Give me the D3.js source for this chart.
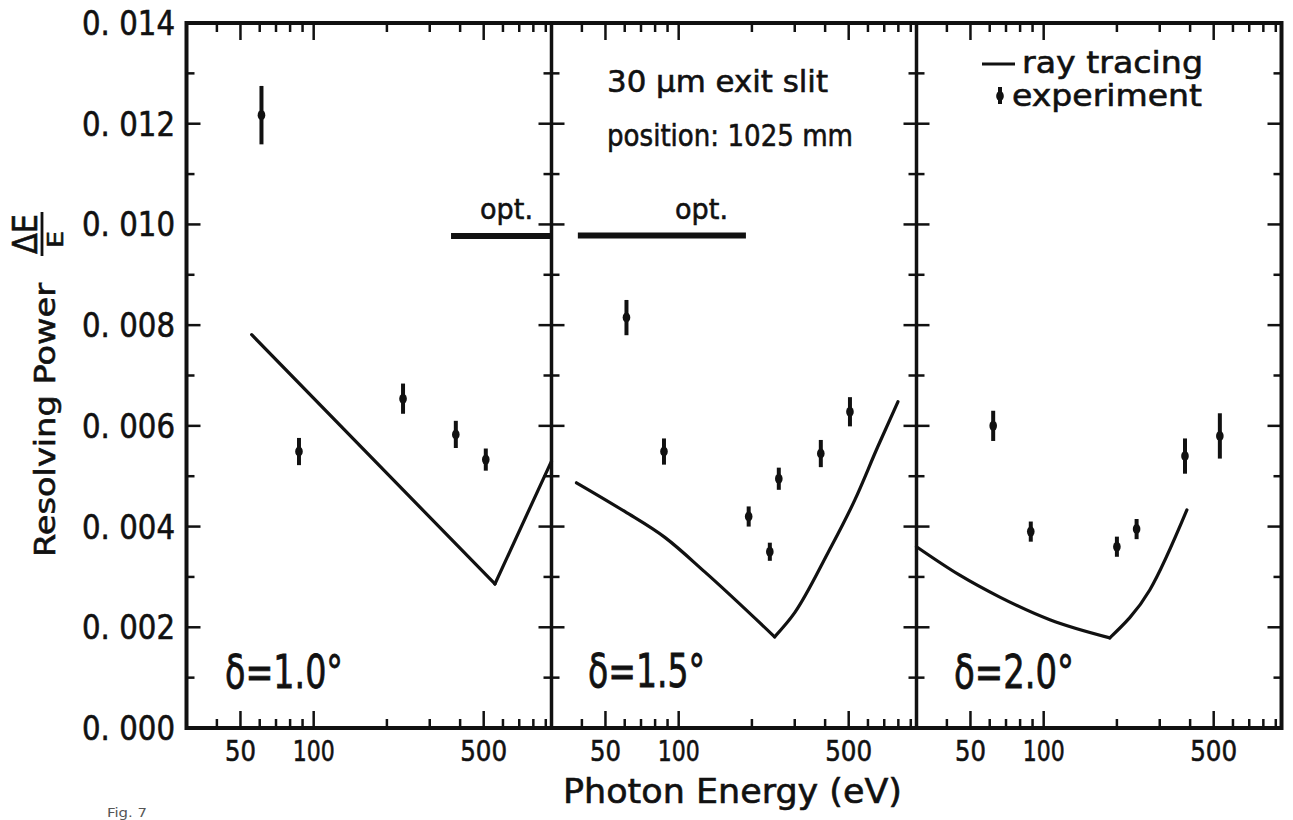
<!DOCTYPE html>
<html><head><meta charset="utf-8">
<script src="https://cdnjs.cloudflare.com/ajax/libs/d3/7.8.5/d3.min.js"></script>
<style>html,body{margin:0;padding:0;background:#fff;} svg{display:block;}</style>
</head><body><svg id="c" width="1293" height="820"></svg>
<script>
// ---------- data ----------
const yMajorTicks = [0, 0.002, 0.004, 0.006, 0.008, 0.010, 0.012, 0.014];
const yTickLabels = ["0. 000","0. 002","0. 004","0. 006","0. 008","0. 010","0. 012","0. 014"];
const yMinorTicks = [0.001, 0.003, 0.005, 0.007, 0.009, 0.011, 0.013];
const xMajorTicks = [50, 100, 500];
const xTickLabels = ["50", "100", "500"];
const xMinorTicks = [40, 60, 70, 80, 90, 200, 300, 400, 600, 700, 800, 900];
const panelLabels = ["δ=1.0°", "δ=1.5°", "δ=2.0°"];

// panel 1 (δ = 1.0°)
const exp1E   = [61, 87, 233, 384, 510];
const exp1V   = [0.01217, 0.00549, 0.00654, 0.00583, 0.00533];
const exp1Err = [0.00058, 0.00027, 0.00030, 0.00027, 0.00022];
const ray1E   = [55.6, 556, 950];
const ray1V   = [0.00781, 0.00286, 0.00530];
const ray1Min = 1;           // index of the kink
const opt1E   = [367, 950];
const opt1V   = 0.00977;

// panel 2 (δ = 1.5°)
const exp2E   = [61, 87, 194, 237, 258, 384, 506];
const exp2V   = [0.00815, 0.00549, 0.00420, 0.00350, 0.00495, 0.00545, 0.00628];
const exp2Err = [0.00035, 0.00026, 0.00020, 0.00018, 0.00022, 0.00027, 0.00029];
const ray2E   = [38, 60, 88, 128, 248, 300, 411, 530, 659, 797];
const ray2V   = [0.00487, 0.00430, 0.00378, 0.00310, 0.00181, 0.00229, 0.00348, 0.00453, 0.00559, 0.00648];
const ray2Min = 4;
const opt2E   = [38.5, 189];
const opt2V   = 0.00978;

// panel 3 (δ = 2.0°)
const exp3E   = [62, 88.5, 200, 241, 381, 530];
const exp3V   = [0.00600, 0.00390, 0.00360, 0.00395, 0.00540, 0.00580];
const exp3Err = [0.00030, 0.00020, 0.00020, 0.00020, 0.00035, 0.00045];
const ray3E   = [30, 45, 66, 106, 187, 273, 388];
const ray3V   = [0.00360, 0.00304, 0.00260, 0.00215, 0.00179, 0.00274, 0.00433];
const ray3Min = 4;

// ---------- layout ----------
const svg = d3.select("#c");
const INK = "#111";
const FONT = "'DejaVu Sans', 'Noto Sans', sans-serif";
const yTop = 23, yBot = 728;
const panelW = 365;
const lefts = [186.5, 551.5, 916.5];
const y = d3.scaleLinear().domain([0, 0.014]).range([yBot, yTop]);

const panels = [
  {E: exp1E, V: exp1V, Err: exp1Err, rE: ray1E, rV: ray1V, kink: ray1Min, oE: opt1E, oV: opt1V, curve: d3.curveLinear},
  {E: exp2E, V: exp2V, Err: exp2Err, rE: ray2E, rV: ray2V, kink: ray2Min, oE: opt2E, oV: opt2V, curve: d3.curveMonotoneX},
  {E: exp3E, V: exp3V, Err: exp3Err, rE: ray3E, rV: ray3V, kink: ray3Min, oE: null, oV: null, curve: d3.curveMonotoneX}
];

function addText(g, str, x, yb, size, len, opts = {}) {
  const t = g.append("text").attr("x", x).attr("y", yb)
    .attr("font-family", FONT).attr("font-size", size).attr("fill", INK)
    .attr("stroke", INK).attr("stroke-width", opts.sw === undefined ? 0.6 : opts.sw)
    .text(str);
  if (len) t.attr("textLength", len).attr("lengthAdjust", "spacingAndGlyphs");
  if (opts.anchor) t.attr("text-anchor", opts.anchor);
  return t;
}

const gAxes = svg.append("g");

panels.forEach((p, i) => {
  const L = lefts[i], R = L + panelW;
  const x = d3.scaleLog().domain([30, 950]).range([L, R]);
  const g = svg.append("g");

  // bottom & top ticks
  const tickSets = [[xMajorTicks, 17], [xMinorTicks, 9]];
  tickSets.forEach(([vals, len]) => {
    g.selectAll(null).data(vals).enter().append("line")
      .attr("x1", d => x(d)).attr("x2", d => x(d))
      .attr("y1", yBot).attr("y2", yBot - len)
      .attr("stroke", INK).attr("stroke-width", 2.5);
    g.selectAll(null).data(vals).enter().append("line")
      .attr("x1", d => x(d)).attr("x2", d => x(d))
      .attr("y1", yTop).attr("y2", yTop + len)
      .attr("stroke", INK).attr("stroke-width", 2.5);
  });

  // x tick labels
  const lblLen = {"50": 31, "100": 42, "500": 47};
  xMajorTicks.forEach((v, k) => {
    const s = xTickLabels[k];
    addText(g, s, x(v) - lblLen[s] / 2, 761, 29, lblLen[s]);
  });

  // opt bar
  if (p.oE) {
    g.append("line").attr("x1", x(p.oE[0])).attr("x2", x(p.oE[1]))
      .attr("y1", y(p.oV)).attr("y2", y(p.oV))
      .attr("stroke", INK).attr("stroke-width", 6);
  }

  // ray tracing line: two branches meeting at a sharp minimum
  const pts = p.rE.map((e, k) => [e, p.rV[k]]);
  const branches = [pts.slice(0, p.kink + 1), pts.slice(p.kink)];
  const line = d3.line().x(d => x(d[0])).y(d => y(d[1])).curve(p.curve);
  branches.forEach(b => {
    g.append("path").datum(b).attr("d", line)
      .attr("fill", "none").attr("stroke", INK).attr("stroke-width", 3.2)
      .attr("stroke-linecap", "round");
  });

  // experiment points
  const ex = p.E.map((e, k) => ({e, v: p.V[k], err: p.Err[k]}));
  g.selectAll(null).data(ex).enter().append("line")
    .attr("x1", d => x(d.e)).attr("x2", d => x(d.e))
    .attr("y1", d => y(d.v + d.err)).attr("y2", d => y(d.v - d.err))
    .attr("stroke", INK).attr("stroke-width", 4);
  g.selectAll(null).data(ex).enter().append("ellipse")
    .attr("cx", d => x(d.e)).attr("cy", d => y(d.v))
    .attr("rx", 3.8).attr("ry", 5).attr("fill", INK);
});

// ---------- frame ----------
const R3 = lefts[2] + panelW;
gAxes.append("rect").attr("x", lefts[0]).attr("y", yTop)
  .attr("width", R3 - lefts[0]).attr("height", yBot - yTop)
  .attr("fill", "none").attr("stroke", INK).attr("stroke-width", 4);
[lefts[1], lefts[2]].forEach(xd => {
  gAxes.append("line").attr("x1", xd).attr("x2", xd).attr("y1", yTop).attr("y2", yBot)
    .attr("stroke", INK).attr("stroke-width", 3.5);
});

// y ticks on left axis, dividers, right axis
const inner = yMajorTicks.filter(v => v > 0 && v < 0.014);
function yt(vals, xa, dxL, dxR, sw) {
  gAxes.selectAll(null).data(vals).enter().append("line")
    .attr("x1", xa - dxL).attr("x2", xa + dxR)
    .attr("y1", d => y(d)).attr("y2", d => y(d))
    .attr("stroke", INK).attr("stroke-width", sw);
}
yt(inner, lefts[0], 0, 14, 2.5);
yt(yMinorTicks, lefts[0], 0, 8, 2.5);
[lefts[1], lefts[2]].forEach(xd => {
  yt(inner, xd, 13, 13, 2.5);
  yt(yMinorTicks, xd, 8, 8, 2.5);
});
yt(inner, R3, 14, 0, 2.5);
yt(yMinorTicks, R3, 8, 0, 2.5);

// y tick labels
yMajorTicks.forEach((v, k) => {
  addText(gAxes, yTickLabels[k], 82, y(v) + 12, 33, 93);
});

// ---------- texts ----------
const gt = svg.append("g");
addText(gt, "Photon Energy (eV)", 563, 803, 34, 339);

function rotText(str, tx, ty, size, len) {
  gt.append("g").attr("transform", `translate(${tx},${ty}) rotate(-90)`)
    .append("text").attr("x", 0).attr("y", 0)
    .attr("font-family", FONT).attr("font-size", size).attr("fill", INK)
    .attr("stroke", INK).attr("stroke-width", 0.6)
    .attr("textLength", len).attr("lengthAdjust", "spacingAndGlyphs")
    .text(str);
}
rotText("Resolving Power", 55, 557, 28, 274);
rotText("ΔE", 37, 254, 33, 40);
gt.append("line").attr("x1", 42).attr("x2", 42).attr("y1", 212).attr("y2", 256)
  .attr("stroke", INK).attr("stroke-width", 2.8);
rotText("E", 63, 248, 22, 17);

// panel labels
const plPos = [[225, 688, 118], [588, 687, 117], [954, 688, 120]];
panelLabels.forEach((s, i) => addText(gt, s, plPos[i][0], plPos[i][1], 46, plPos[i][2], {sw: 0.8}));

// annotations
addText(gt, "30 μm exit slit", 607, 92, 30, 221);
addText(gt, "position: 1025 mm", 607, 146, 30, 246);
addText(gt, "opt.", 480, 219, 29, 53);
addText(gt, "opt.", 675, 219, 29, 53);

// legend
gt.append("line").attr("x1", 982).attr("x2", 1015).attr("y1", 64).attr("y2", 64)
  .attr("stroke", INK).attr("stroke-width", 3);
addText(gt, "ray tracing", 1022, 73, 30, 181);
gt.append("line").attr("x1", 1000).attr("x2", 1000).attr("y1", 87).attr("y2", 104)
  .attr("stroke", INK).attr("stroke-width", 4);
gt.append("ellipse").attr("cx", 1000).attr("cy", 96).attr("rx", 3.8).attr("ry", 5).attr("fill", INK);
addText(gt, "experiment", 1012, 106, 30, 190);

// figure caption
gt.append("text").attr("x", 107).attr("y", 817)
  .attr("font-family", FONT).attr("font-size", 12).attr("fill", "#555")
  .attr("textLength", 40).attr("lengthAdjust", "spacingAndGlyphs")
  .text("Fig. 7");
</script>
</body></html>
